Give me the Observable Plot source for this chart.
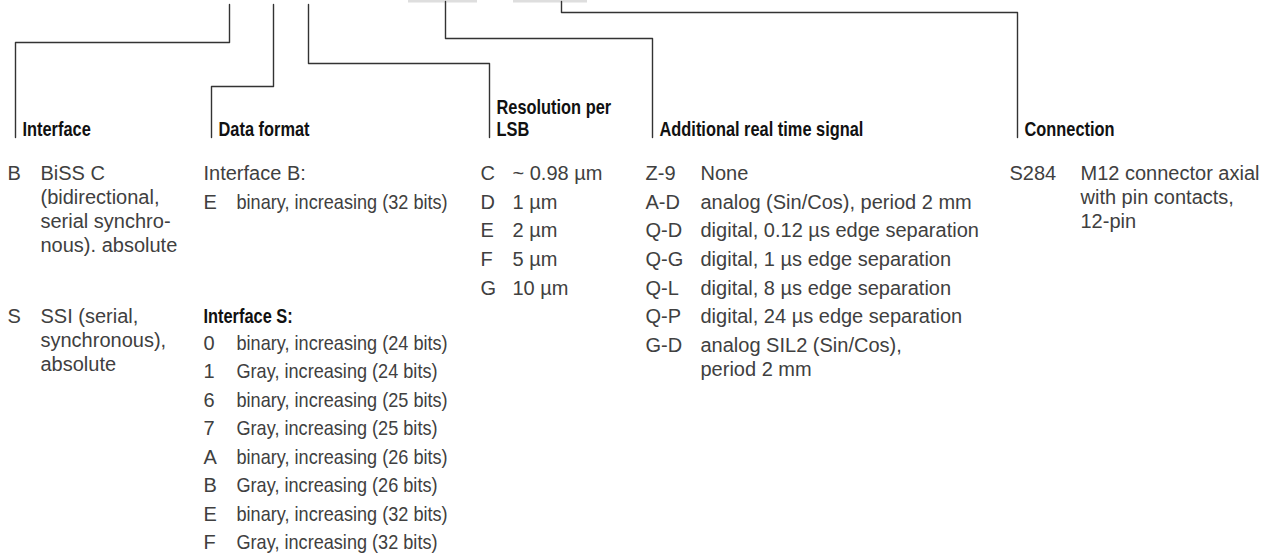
<!DOCTYPE html>
<html>
<head>
<meta charset="utf-8">
<script src="https://cdn.jsdelivr.net/npm/d3@7"></script>
<script src="https://cdn.jsdelivr.net/npm/@observablehq/plot@0.6"></script>
<style>
  html, body { margin: 0; padding: 0; background: #fff; }
  #chart svg { display: block; }
</style>
</head>
<body>
<div id="chart"></div>
<script>
// ---------------- data ----------------
const sectionTitles = ["Interface", "Data format", "Resolution per\nLSB", "Additional real time signal", "Connection"];

const interfaceCodes = ["B", "S"];
const interfaceTexts = [
  "BiSS C\n(bidirectional,\nserial synchro-\nnous). absolute",
  "SSI (serial,\nsynchronous),\nabsolute"
];

const formatGroupTitles = ["Interface B:", "Interface S:"];
const formatBCodes = ["E"];
const formatBTexts = ["binary, increasing (32 bits)"];
const formatSCodes = ["0", "1", "6", "7", "A", "B", "E", "F"];
const formatSTexts = [
  "binary, increasing (24 bits)",
  "Gray, increasing (24 bits)",
  "binary, increasing (25 bits)",
  "Gray, increasing (25 bits)",
  "binary, increasing (26 bits)",
  "Gray, increasing (26 bits)",
  "binary, increasing (32 bits)",
  "Gray, increasing (32 bits)"
];

const resolutionCodes = ["C", "D", "E", "F", "G"];
const resolutionTexts = ["~ 0.98 µm", "1 µm", "2 µm", "5 µm", "10 µm"];

const signalCodes = ["Z-9", "A-D", "Q-D", "Q-G", "Q-L", "Q-P", "G-D"];
const signalTexts = [
  "None",
  "analog (Sin/Cos), period 2 mm",
  "digital, 0.12 µs edge separation",
  "digital, 1 µs edge separation",
  "digital, 8 µs edge separation",
  "digital, 24 µs edge separation",
  "analog SIL2 (Sin/Cos),\nperiod 2 mm"
];

const connectionCodes = ["S284"];
const connectionTexts = ["M12 connector axial\nwith pin contacts,\n12-pin"];

// ---------------- layout (positions in page units) ----------------
const W = 1274, H = 555;
const layout = {
  firstRow: 173, rowStep: 28.7, wrapStep: 24,
  listStart: 343, listStep: 28.5,
  headerBase: 135, dropBottom: 137,
  condense: 0.82,       // narrow bold headings
  formatCondense: 0.906, // tighter set of the data-format descriptions
  columns: [
    {stemX: 229, stemTop: 4, stepY: 42, dropX: 15,   codeX: 7,    textX: 40},
    {stemX: 273, stemTop: 4, stepY: 86, dropX: 211,  codeX: 203,  textX: 236},
    {stemX: 308, stemTop: 4, stepY: 63, dropX: 489,  codeX: 480,  textX: 512},
    {stemX: 445, stemTop: 1, stepY: 38, dropX: 652,  codeX: 645,  textX: 700},
    {stemX: 561, stemTop: 1, stepY: 12, dropX: 1017, codeX: 1009, textX: 1080}
  ],
  stubs: [{x1: 408, x2: 477}, {x1: 513, x2: 587}],
  interfaceRows: [0, 5],
  formatGroupRows: [0, 5]
};

const rowY = r => layout.firstRow + r * layout.rowStep;

// leader lines
const leaders = [];
layout.columns.forEach((c, i) => {
  leaders.push({id: i, x: c.stemX, y: c.stemTop});
  leaders.push({id: i, x: c.stemX, y: c.stepY});
  leaders.push({id: i, x: c.dropX, y: c.stepY});
  leaders.push({id: i, x: c.dropX, y: layout.dropBottom});
});

// headers
const headers = sectionTitles.map((t, i) => ({x: layout.columns[i].dropX + 7, y: layout.headerBase, text: t}));

// entries
const codeItems = [], textItems = [], formatItems = [], boldSub = [];
function addEntries(colIdx, codes, texts, ys, target) {
  const c = layout.columns[colIdx];
  codes.forEach((code, i) => {
    const y0 = ys[i];
    codeItems.push({x: c.codeX, y: y0, text: code});
    texts[i].split("\n").forEach((line, k) => {
      target.push({x: c.textX, y: y0 + k * layout.wrapStep, text: line});
    });
  });
}
addEntries(0, interfaceCodes, interfaceTexts, layout.interfaceRows.map(rowY), textItems);
// data format
textItems.push({x: layout.columns[1].codeX, y: rowY(layout.formatGroupRows[0]), text: formatGroupTitles[0]});
boldSub.push({x: layout.columns[1].codeX, y: rowY(layout.formatGroupRows[1]), text: formatGroupTitles[1]});
addEntries(1, formatBCodes, formatBTexts, formatBCodes.map((_, i) => rowY(layout.formatGroupRows[0] + 1 + i)), formatItems);
addEntries(1, formatSCodes, formatSTexts, formatSCodes.map((_, i) => layout.listStart + i * layout.listStep), formatItems);
addEntries(2, resolutionCodes, resolutionTexts, resolutionCodes.map((_, i) => rowY(i)), textItems);
addEntries(3, signalCodes, signalTexts, signalCodes.map((_, i) => rowY(i)), textItems);
addEntries(4, connectionCodes, connectionTexts, connectionCodes.map((_, i) => rowY(i)), textItems);

const boldFont = "'Liberation Sans', Arial, Helvetica, sans-serif";
const body = "'Liberation Sans', Arial, Helvetica, sans-serif";
const bodyFill = "#404040";

const chart = Plot.plot({
  width: W, height: H, margin: 0,
  x: {domain: [0, W], range: [0, W], axis: null},
  y: {domain: [0, H], range: [0, H], axis: null},
  style: {background: "#fff"},
  marks: [
    Plot.rect(layout.stubs, {x1: "x1", x2: "x2", y1: () => 0, y2: () => 2.5, fill: "#dedede"}),
    Plot.line(leaders, {x: "x", y: "y", z: "id", stroke: "#333", strokeWidth: 1.4, curve: "linear"}),
    Plot.text(headers, {x: "x", y: "y", text: "text", textAnchor: "start", lineAnchor: "bottom",
      lineHeight: 1.1, fontFamily: boldFont, fontWeight: "bold", fontSize: 20, fill: "#111"}),
    Plot.text(boldSub, {x: "x", y: "y", text: "text", textAnchor: "start", lineAnchor: "middle",
      fontFamily: boldFont, fontWeight: "bold", fontSize: 20, fill: "#111"}),
    Plot.text(codeItems, {x: "x", y: "y", text: "text", textAnchor: "start", lineAnchor: "middle",
      fontFamily: body, fontSize: 20, fill: bodyFill}),
    Plot.text(textItems, {x: "x", y: "y", text: "text", textAnchor: "start", lineAnchor: "middle",
      fontFamily: body, fontSize: 20, fill: bodyFill}),
    Plot.text(formatItems, {x: "x", y: "y", text: "text", textAnchor: "start", lineAnchor: "middle",
      fontFamily: body, fontSize: 20, fontStyle: "normal", fill: bodyFill})
  ]
});
// condensed look for the bold headings (a narrow bold face is not installed)
d3.select(chart).selectAll('g[font-weight="bold"] text').each(function () {
  const t = this.getAttribute("transform") || "";
  this.setAttribute("transform", `${t} scale(${layout.condense},1)`);
});
// tighter set for the data-format descriptions
d3.select(chart).selectAll('g[font-style="normal"] text').each(function () {
  const t = this.getAttribute("transform") || "";
  this.setAttribute("transform", `${t} scale(${layout.formatCondense},1)`);
});
document.getElementById("chart").appendChild(chart);
</script>
</body>
</html>
